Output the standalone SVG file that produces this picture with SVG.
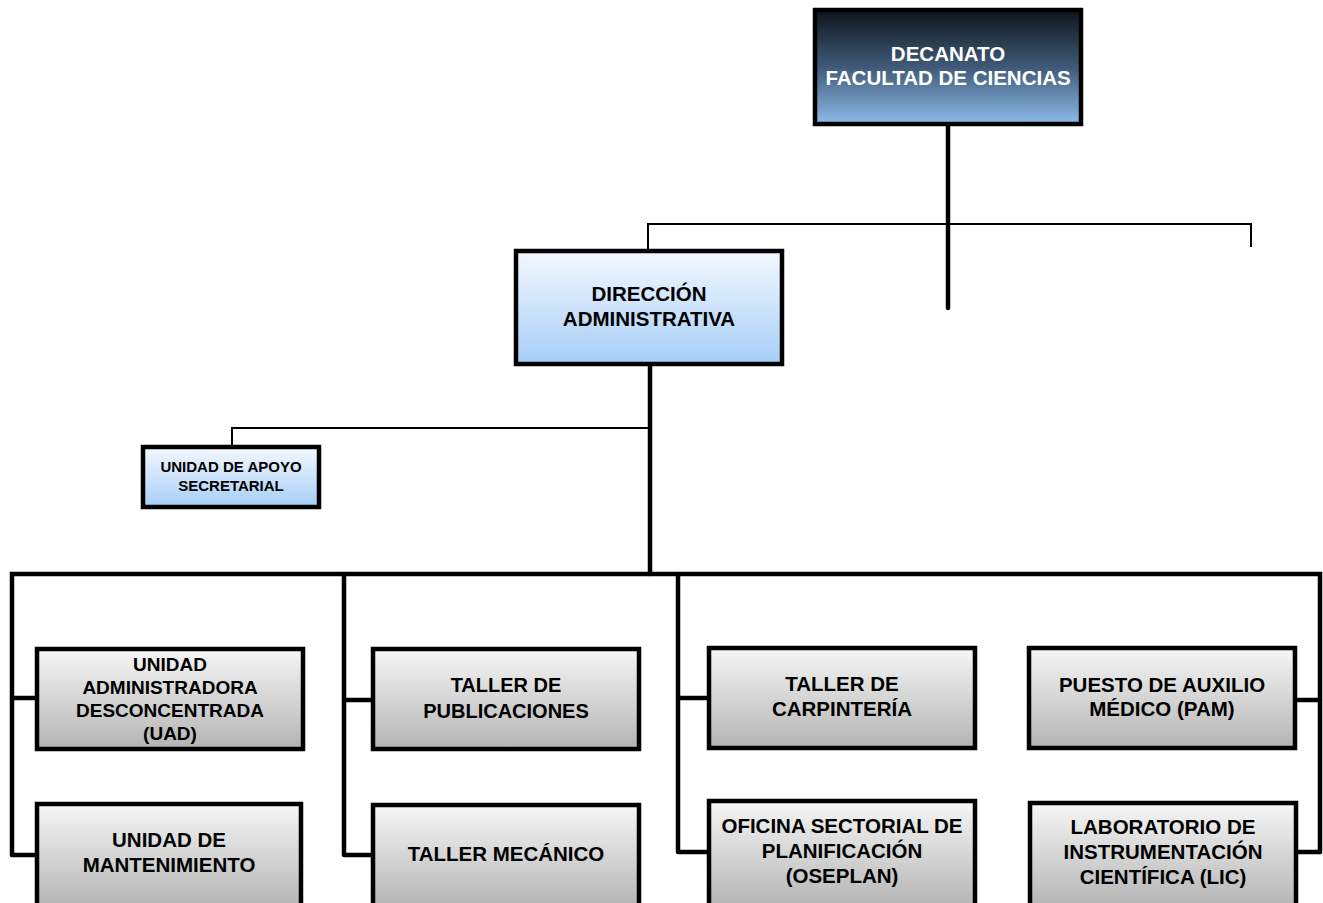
<svg xmlns="http://www.w3.org/2000/svg" width="1323" height="903" viewBox="0 0 1323 903">
<defs>
<linearGradient id="gDark" x1="0" y1="0" x2="0" y2="1">
<stop offset="0" stop-color="#0e141b"/>
<stop offset="0.5" stop-color="#3f5a78"/>
<stop offset="1" stop-color="#8dbbe9"/>
</linearGradient>
<linearGradient id="gBlue" x1="0" y1="0" x2="0" y2="1">
<stop offset="0" stop-color="#f4f8ff"/>
<stop offset="1" stop-color="#a6cef8"/>
</linearGradient>
<linearGradient id="gGrey" x1="0" y1="0" x2="0" y2="1">
<stop offset="0" stop-color="#f6f6f6"/>
<stop offset="1" stop-color="#b4b4b4"/>
</linearGradient>
</defs>
<style>
.box{stroke:#000;stroke-width:4.5}
.dark{fill:url(#gDark)}
.blue{fill:url(#gBlue)}
.grey{fill:url(#gGrey)}
.t{font-family:"Liberation Sans",Arial,sans-serif;font-weight:bold;font-size:20.5px;text-anchor:middle;fill:#000}
.tw{fill:#fff;font-size:20.5px}
.ts{font-size:15px}
.tm{font-size:19px}
.tp{font-size:20px}
.thick{stroke:#000;stroke-width:4.5;fill:none;stroke-linecap:round}
.thin{stroke:#000;stroke-width:2;fill:none}
</style>
<rect width="1323" height="903" fill="#fff"/>
<g id="connectors">
<path class="thick" d="M948 124 V308"/>
<path class="thin" d="M648 251 V224 H1251 V247"/>
<path class="thick" d="M650 364 V574"/>
<path class="thin" d="M232 447 V428 H650"/>
<path class="thick" d="M12 855 V574 H1320 V852"/>
<path class="thick" d="M12 698 H37 M12 855 H37"/>
<path class="thick" d="M344 574 V855 M344 700 H373 M344 855 H373"/>
<path class="thick" d="M678 574 V852 M678 698 H709 M678 852 H709"/>
<path class="thick" d="M1295 700 H1320 M1296 852 H1320"/>
</g>
<g id="decanato">
<rect class="box dark" x="815" y="10" width="266" height="114"/>
<text class="t tw" x="948" y="61">DECANATO</text>
<text class="t tw" x="948" y="85">FACULTAD DE CIENCIAS</text>
</g>
<g id="direccion">
<rect class="box blue" x="516" y="251" width="266" height="113"/>
<text class="t" x="649" y="301">DIRECCIÓN</text>
<text class="t" x="649" y="326">ADMINISTRATIVA</text>
</g>
<g id="apoyo">
<rect class="box blue" x="143" y="447" width="176" height="60"/>
<text class="t ts" x="231" y="472">UNIDAD DE APOYO</text>
<text class="t ts" x="231" y="491">SECRETARIAL</text>
</g>
<g id="uad">
<rect class="box grey" x="37" y="649" width="266" height="100"/>
<text class="t tm" x="170" y="671">UNIDAD</text>
<text class="t tm" x="170" y="694">ADMINISTRADORA</text>
<text class="t tm" x="170" y="717">DESCONCENTRADA</text>
<text class="t tm" x="170" y="740">(UAD)</text>
</g>
<g id="mantenimiento">
<rect class="box grey" x="37" y="804" width="264" height="104"/>
<text class="t" x="169" y="847">UNIDAD DE</text>
<text class="t" x="169" y="872">MANTENIMIENTO</text>
</g>
<g id="publicaciones">
<rect class="box grey" x="373" y="649" width="266" height="100"/>
<text class="t tp" x="506" y="692">TALLER DE</text>
<text class="t tp" x="506" y="718">PUBLICACIONES</text>
</g>
<g id="mecanico">
<rect class="box grey" x="373" y="805" width="266" height="103"/>
<text class="t" x="506" y="861">TALLER MECÁNICO</text>
</g>
<g id="carpinteria">
<rect class="box grey" x="709" y="648" width="266" height="100"/>
<text class="t" x="842" y="691">TALLER DE</text>
<text class="t" x="842" y="716">CARPINTERÍA</text>
</g>
<g id="oseplan">
<rect class="box grey" x="709" y="801" width="266" height="107"/>
<text class="t" x="842" y="833">OFICINA SECTORIAL DE</text>
<text class="t" x="842" y="858">PLANIFICACIÓN</text>
<text class="t" x="842" y="883">(OSEPLAN)</text>
</g>
<g id="pam">
<rect class="box grey" x="1029" y="648" width="266" height="100"/>
<text class="t" x="1162" y="692">PUESTO DE AUXILIO</text>
<text class="t" x="1162" y="716">MÉDICO (PAM)</text>
</g>
<g id="lic">
<rect class="box grey" x="1030" y="803" width="266" height="105"/>
<text class="t" x="1163" y="834">LABORATORIO DE</text>
<text class="t" x="1163" y="859">INSTRUMENTACIÓN</text>
<text class="t" x="1163" y="884">CIENTÍFICA (LIC)</text>
</g>
</svg>
